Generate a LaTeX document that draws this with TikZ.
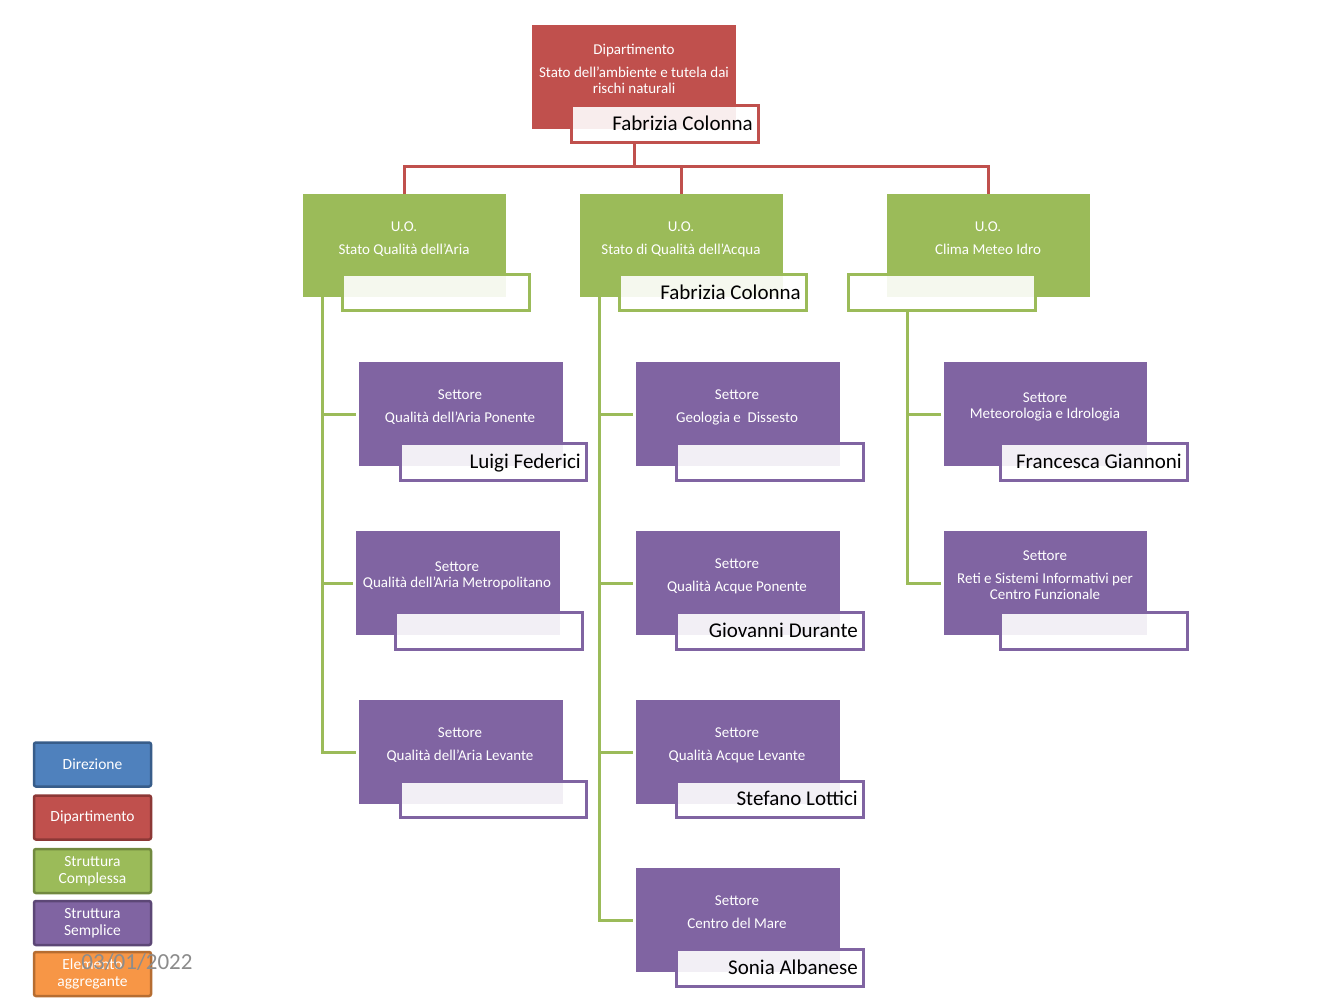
\documentclass[tikz,border=0pt]{standalone}
\usepackage{fontspec}
\setmainfont{Carlito}
\definecolor{dred}{HTML}{C0504D}
\definecolor{dgreen}{HTML}{9BBB59}
\definecolor{dpurple}{HTML}{8064A2}
\definecolor{dblue}{HTML}{4F81BD}
\definecolor{dorange}{HTML}{F79646}
\definecolor{bblue}{HTML}{385D8A}
\definecolor{bred}{HTML}{8C3836}
\definecolor{bgreen}{HTML}{71893F}
\definecolor{bpurple}{HTML}{5C4776}
\definecolor{borange}{HTML}{B66D31}
\definecolor{dategray}{HTML}{8C8C8C}
\newcommand\mkrect[7]{\node[#1,minimum width={#5-#3},minimum height={#6-#4}] (#2) at ({(#3+#5)/2},{(#4+#6)/2}) {#7};}
\newcommand\txtline[4]{\node[btxt] (#1) at (#2,#3+1) {#4};}
\begin{document}
\begin{tikzpicture}[x=1pt,y=-1pt,
 box/.style={inner sep=0pt,outer sep=0pt,draw=none},
 lab/.style={inner sep=0pt,outer sep=0pt,fill=white,fill opacity=0.9,line width=3pt},
 btxt/.style={text=white,font=\fontsize{15}{17}\selectfont,inner sep=0pt,text height=9pt,text depth=0pt},
 ntxt/.style={text=black,font=\fontsize{21}{23}\selectfont,inner sep=0pt,text height=13pt,text depth=0pt,anchor=east},
 redline/.style={draw=dred,line width=3pt},
 greenline/.style={draw=dgreen,line width=3pt},
 leg/.style={inner sep=0pt,outer sep=0pt,rounded corners=2pt,line width=2.5pt,minimum width=117pt,minimum height=44pt,text=white,align=center,font=\fontsize{15.5}{17}\selectfont},
]
\useasboundingbox[fill=white] (0,0) rectangle (1344,1008);

% Dipartimento
\mkrect{box,fill=dred}{D}{532}{25}{736}{129}{}
\mkrect{lab,draw=dred}{Dl}{571}{106}{758}{143}{}
\txtline{Dt1}{634}{49}{Dipartimento}
\txtline{Dt2}{634}{72}{Stato dell’ambiente e tutela dai}
\txtline{Dt3}{634}{88}{rischi naturali}
\node[ntxt] (Dn) at ([xshift=-5pt]Dl.east) {Fabrizia Colonna};

% U.O. boxes
\mkrect{box,fill=dgreen}{G1}{303}{194}{506}{297}{}
\mkrect{lab,draw=dgreen}{G1l}{342}{275}{529}{311}{}
\txtline{G1t1}{404}{226}{U.O.}
\txtline{G1t2}{404}{249}{Stato Qualità dell’Aria}

\mkrect{box,fill=dgreen}{G2}{580}{194}{783}{297}{}
\mkrect{lab,draw=dgreen}{G2l}{619}{275}{806}{311}{}
\txtline{G2t1}{681}{226}{U.O.}
\txtline{G2t2}{681}{249}{Stato di Qualità dell’Acqua}
\node[ntxt] (G2n) at ([xshift=-5pt]G2l.east) {Fabrizia Colonna};

\mkrect{box,fill=dgreen}{G3}{887}{194}{1090}{297}{}
\mkrect{lab,draw=dgreen}{G3l}{848}{275}{1035}{311}{}
\txtline{G3t1}{988}{226}{U.O.}
\txtline{G3t2}{988}{249}{Clima Meteo Idro}

% Settori column 1
\mkrect{box,fill=dpurple}{P11}{359}{362}{563}{466}{}
\mkrect{lab,draw=dpurple}{P11l}{400}{443}{586}{480}{}
\txtline{P11t1}{460}{394}{Settore}
\txtline{P11t2}{460}{417}{Qualità dell’Aria Ponente}
\node[ntxt] (P11n) at ([xshift=-5pt]P11l.east) {Luigi Federici};

\mkrect{box,fill=dpurple}{P12}{356}{531}{560}{635}{}
\mkrect{lab,draw=dpurple}{P12l}{395}{612}{582}{649}{}
\txtline{P12t1}{457}{566}{Settore}
\txtline{P12t2}{457}{582}{Qualità dell’Aria Metropolitano}

\mkrect{box,fill=dpurple}{P13}{359}{700}{563}{804}{}
\mkrect{lab,draw=dpurple}{P13l}{400}{781}{586}{817}{}
\txtline{P13t1}{460}{732}{Settore}
\txtline{P13t2}{460}{755}{Qualità dell’Aria Levante}

% Settori column 2
\mkrect{box,fill=dpurple}{P21}{636}{362}{840}{466}{}
\mkrect{lab,draw=dpurple}{P21l}{676}{443}{863}{480}{}
\txtline{P21t1}{737}{394}{Settore}
\txtline{P21t2}{737}{417}{Geologia e \ Dissesto}

\mkrect{box,fill=dpurple}{P22}{636}{531}{840}{635}{}
\mkrect{lab,draw=dpurple}{P22l}{676}{612}{863}{649}{}
\txtline{P22t1}{737}{563}{Settore}
\txtline{P22t2}{737}{586}{Qualità Acque Ponente}
\node[ntxt] (P22n) at ([xshift=-5pt]P22l.east) {Giovanni Durante};

\mkrect{box,fill=dpurple}{P23}{636}{700}{840}{804}{}
\mkrect{lab,draw=dpurple}{P23l}{676}{781}{863}{817}{}
\txtline{P23t1}{737}{732}{Settore}
\txtline{P23t2}{737}{755}{Qualità Acque Levante}
\node[ntxt] (P23n) at ([xshift=-5pt]P23l.east) {Stefano Lottici};

\mkrect{box,fill=dpurple}{P24}{636}{868}{840}{972}{}
\mkrect{lab,draw=dpurple}{P24l}{676}{949}{863}{986}{}
\txtline{P24t1}{737}{900}{Settore}
\txtline{P24t2}{737}{923}{Centro del Mare}
\node[ntxt] (P24n) at ([xshift=-5pt]P24l.east) {Sonia Albanese};

% Settori column 3
\mkrect{box,fill=dpurple}{P31}{944}{362}{1147}{466}{}
\mkrect{lab,draw=dpurple}{P31l}{1000}{443}{1187}{480}{}
\txtline{P31t1}{1045}{397}{Settore}
\txtline{P31t2}{1045}{413}{Meteorologia e Idrologia}
\node[ntxt] (P31n) at ([xshift=-5pt]P31l.east) {Francesca Giannoni};

\mkrect{box,fill=dpurple}{P32}{944}{531}{1147}{635}{}
\mkrect{lab,draw=dpurple}{P32l}{1000}{612}{1187}{649}{}
\txtline{P32t1}{1045}{555}{Settore}
\txtline{P32t2}{1045}{578}{Reti e Sistemi Informativi per}
\txtline{P32t3}{1045}{594}{Centro Funzionale}

% red connectors
\coordinate (bus) at (634,167);
\draw[redline] (D.south |- Dl.south) -- (bus);
\draw[redline] (G1.north) |- (bus) -| (G3.north);
\draw[redline] (bus -| G2.north) -- (G2.north);

% green connectors
\coordinate (g1v) at ([xshift=19pt]G1.south west);
\draw[greenline] (g1v) |- ([xshift=-3pt]P13.west);
\draw[greenline] (g1v |- P11.west) -- ([xshift=-3pt]P11.west);
\draw[greenline] (g1v |- P12.west) -- ([xshift=-3pt]P12.west);

\coordinate (g2v) at ([xshift=19pt]G2.south west);
\draw[greenline] (g2v) |- ([xshift=-3pt]P24.west);
\draw[greenline] (g2v |- P21.west) -- ([xshift=-3pt]P21.west);
\draw[greenline] (g2v |- P22.west) -- ([xshift=-3pt]P22.west);
\draw[greenline] (g2v |- P23.west) -- ([xshift=-3pt]P23.west);

\coordinate (g3x) at ([xshift=20pt]G3.south west);
\draw[greenline] (g3x |- G3l.south) |- ([xshift=-3pt]P32.west);
\draw[greenline] (g3x |- P31.west) -- ([xshift=-3pt]P31.west);

% legend
\node[leg,fill=dblue,draw=bblue] (L1) at (92.5,764.5) {Direzione};
\node[leg,fill=dred,draw=bred] (L2) at (92.5,817.5) {Dipartimento};
\node[leg,fill=dgreen,draw=bgreen] (L3) at (92.5,871) {Struttura\\Complessa};
\node[leg,fill=dpurple,draw=bpurple] (L4) at (92.5,923) {Struttura\\Semplice};
\node[leg,fill=dorange,draw=borange] (L5) at (92.5,974) {Elemento\\aggregante};
\node[text=dategray,font=\fontsize{23}{25}\selectfont,inner sep=0pt] (date) at (137,962) {03/01/2022};
\end{tikzpicture}
\end{document}
